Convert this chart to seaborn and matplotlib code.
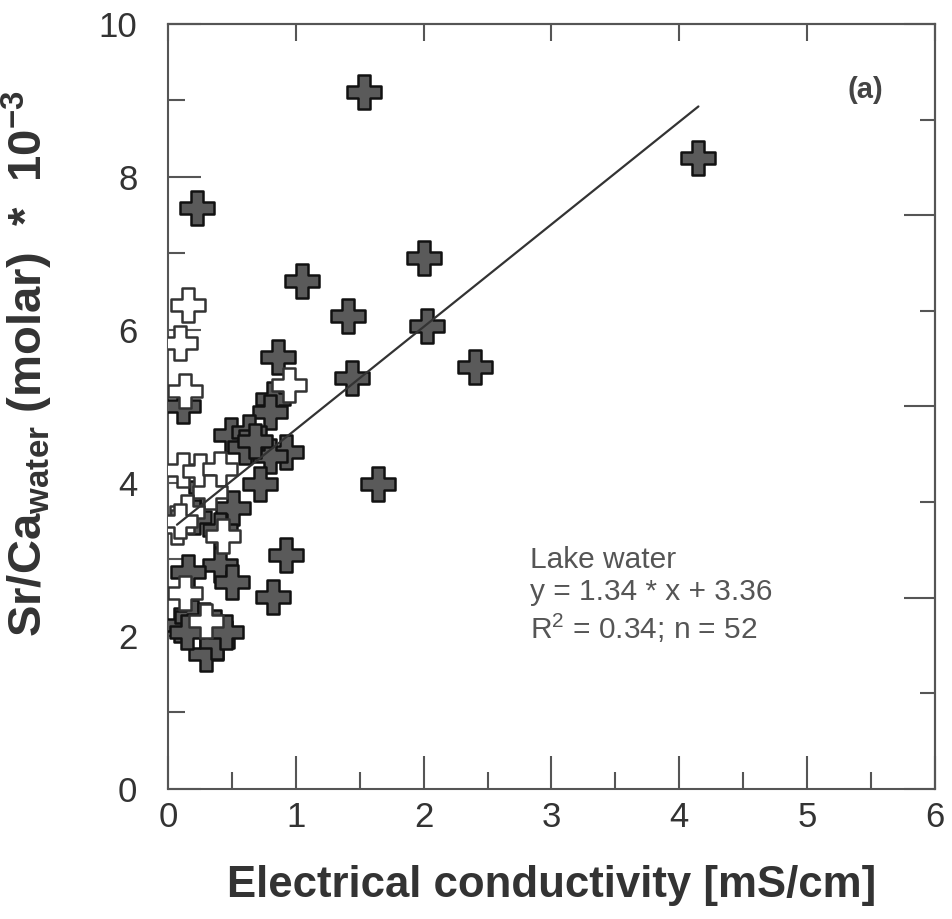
import numpy as np
import pandas as pd
import matplotlib
matplotlib.use("Agg")
import matplotlib.pyplot as plt
import seaborn as sns
from matplotlib.ticker import MultipleLocator

sns.set_theme(style="white")
plt.rcParams['font.family'] = ['Liberation Sans', 'DejaVu Sans']
plt.rcParams['mathtext.fontset'] = 'custom'
plt.rcParams['mathtext.rm'] = 'Liberation Sans'
plt.rcParams['mathtext.default'] = 'regular'

### Data ###

# filled (dark) crosses
ec_dark = [1.53, 4.15, 0.23, 1.05, 2.00, 1.41, 2.03, 0.86, 1.44, 2.40, 1.64, 0.92,
           0.82, 0.12, 0.82, 0.80, 0.49, 0.63, 0.60, 0.92, 0.80, 0.72, 0.51, 0.41,
           0.41, 0.50, 0.16, 0.09, 0.19, 0.28, 0.37, 0.30, 0.38, 0.30, 0.45, 0.15,
           0.68, 0.20]
srca_dark = [9.11, 8.25, 7.60, 6.64, 6.94, 6.18, 6.05, 5.65, 5.37, 5.52, 3.99, 3.06,
             2.51, 5.00, 5.10, 4.93, 4.63, 4.66, 4.47, 4.41, 4.35, 3.99, 3.67, 3.39,
             2.93, 2.71, 2.84, 2.14, 2.25, 2.21, 2.12, 1.77, 1.92, 3.95, 2.05, 2.05,
             4.55, 3.55]

# open (white) crosses
ec_white = [0.16, 0.09, 0.13, 0.95, 0.12, 0.25, 0.41, 0.33, 0.15, 0.07, 0.43, 0.13,
            0.30, 0.09]
srca_white = [6.32, 5.83, 5.20, 5.28, 4.17, 4.15, 4.18, 3.88, 3.62, 3.43, 3.30, 2.56,
              2.20, 3.50]

# regression given in the figure
slope, intercept = 1.34, 3.36

df_dark = pd.DataFrame({"EC": ec_dark, "SrCa": srca_dark})
df_white = pd.DataFrame({"EC": ec_white, "SrCa": srca_white})

### Plot ###

fig = plt.figure(figsize=(9.52, 9.19), dpi=100)
ax = fig.add_axes([0.1765, 0.1415, 0.8055, 0.8325])

sns.scatterplot(data=df_dark, x="EC", y="SrCa", marker="P", s=600,
                color="#5a5a5a", edgecolor="#111111", linewidth=1.8, ax=ax, zorder=3)
sns.scatterplot(data=df_white, x="EC", y="SrCa", marker="P", s=600,
                color="white", edgecolor="#333333", linewidth=1.8, ax=ax, zorder=4)

all_x = np.array(ec_dark + ec_white)
xl = np.array([all_x.min(), all_x.max()])
ax.plot(xl, slope * xl + intercept, color="#333333", linewidth=1.6, zorder=5)

ax.set_xlim(0, 6)
ax.set_ylim(0, 10)
ax.xaxis.set_major_locator(MultipleLocator(1))
ax.xaxis.set_minor_locator(MultipleLocator(0.5))
ax.yaxis.set_major_locator(MultipleLocator(2))
ax.yaxis.set_minor_locator(MultipleLocator(1))
ax.tick_params(which="both", direction="in", bottom=True, left=True,
               colors="#555555", width=1.5, labelcolor="#333333", labelsize=25)
ax.tick_params(which="major", length=24)
ax.tick_params(which="minor", length=12)
ax.tick_params(axis="x", pad=9)
ax.tick_params(axis="y", pad=22)

# ticks on the top and right frame
top = ax.secondary_xaxis("top")
top.xaxis.set_major_locator(MultipleLocator(1))
top.tick_params(direction="in", length=12, width=1.5, colors="#555555", labeltop=False)
right = ax.secondary_yaxis("right")
right.yaxis.set_major_locator(MultipleLocator(2.5))
right.yaxis.set_minor_locator(MultipleLocator(1.25))
right.tick_params(which="both", direction="in", width=1.5, colors="#555555", labelright=False)
right.tick_params(which="major", length=22)
right.tick_params(which="minor", length=11)
for s in [top.spines["top"], right.spines["right"]]:
    s.set_color("#555555")
    s.set_linewidth(1.5)

for s in ax.spines.values():
    s.set_color("#555555")
    s.set_linewidth(1.5)

ax.set_xlabel("Electrical conductivity [mS/cm]", fontsize=31.5, fontweight="bold",
              color="#333333", labelpad=22)
ax.set_ylabel("Sr/Ca$_{water}$ (molar)  *  10$^{-3}$", fontsize=34, fontweight="bold",
              color="#333333")
ax.yaxis.set_label_coords(-0.148, 0.556)

ax.text(2.83, 3.18, "Lake water\ny = 1.34 * x + 3.36\nR$^{2}$ = 0.34; n = 52",
        fontsize=21.5, color="#555555", va="top", ha="left", linespacing=1.2)
ax.text(5.46, 9.14, "(a)", fontsize=21, fontweight="bold", color="#444444",
        va="center", ha="center")

plt.savefig("out.png", dpi=100)
